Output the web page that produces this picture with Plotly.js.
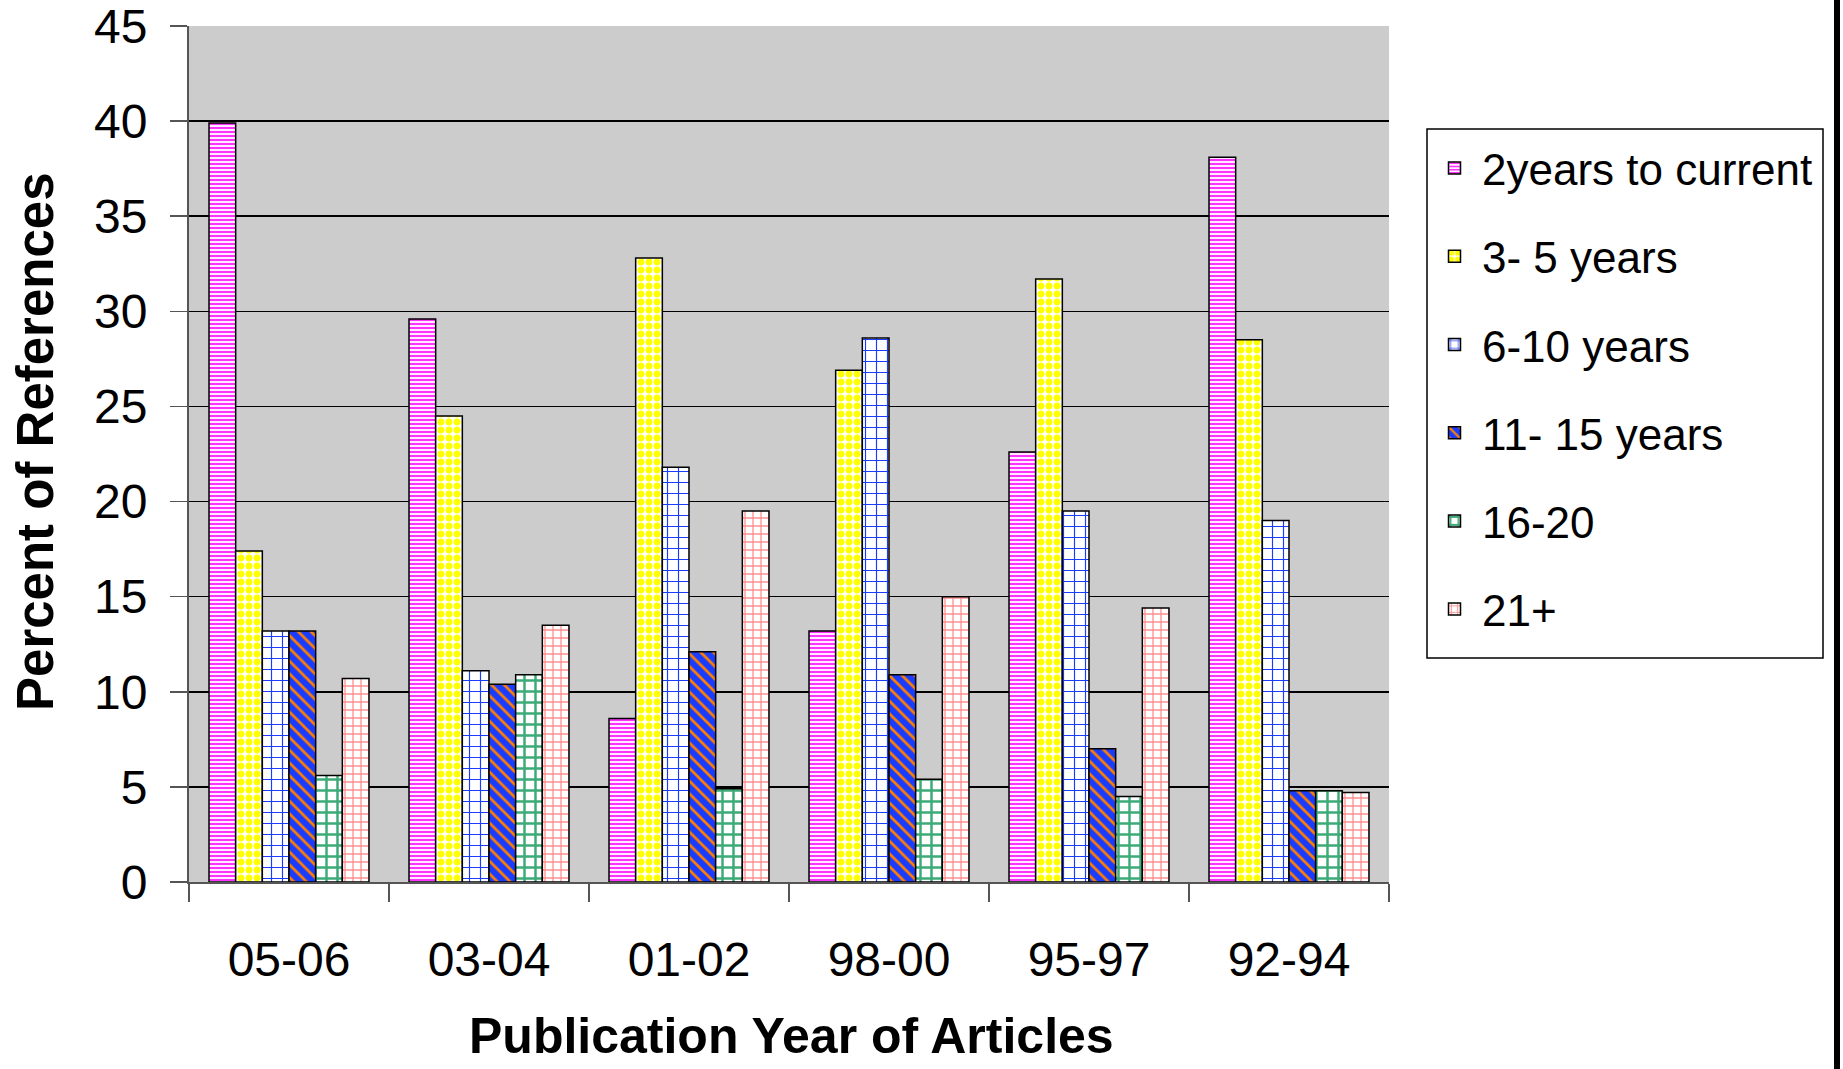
<!DOCTYPE html>
<html>
<head>
<meta charset="utf-8">
<script src="https://cdn.plot.ly/plotly-3.0.1.min.js"></script>
<style>
html,body{margin:0;padding:0;background:#fff;}
#chart{width:1843px;height:1069px;}
</style>
</head>
<body>
<div id="chart"></div>
<script>
const categories = ["05-06", "03-04", "01-02", "98-00", "95-97", "92-94"];
const seriesNames = ["2years to current", "3- 5 years", "6-10 years", "11- 15 years", "16-20", "21+"];
const s2yearsToCurrent = [39.9, 29.6, 8.6, 13.2, 22.6, 38.1];
const s3to5Years = [17.4, 24.5, 32.8, 26.9, 31.7, 28.5];
const s6to10Years = [13.2, 11.1, 21.8, 28.6, 19.5, 19.0];
const s11to15Years = [13.2, 10.4, 12.1, 10.9, 7.0, 4.8];
const s16to20 = [5.6, 10.9, 4.9, 5.4, 4.5, 4.8];
const s21plus = [10.7, 13.5, 19.5, 15.0, 14.4, 4.7];
const yTickValues = [0, 5, 10, 15, 20, 25, 30, 35, 40, 45];
const xTitle = "Publication Year of Articles";
const yTitle = "Percent of References";

const seriesValues = [s2yearsToCurrent, s3to5Years, s6to10Years, s11to15Years, s16to20, s21plus];
const patterns = [
  {shape: "-", fgcolor: "#ff33ff", bgcolor: "#ffffff", size: 4, solidity: 0.55},
  {shape: ".", fgcolor: "#ffff00", bgcolor: "#ffffff", size: 8, solidity: 0.6},
  {shape: "+", fgcolor: "#1a3cff", bgcolor: "#ffffff", size: 11, solidity: 0.2},
  {shape: "\\", fgcolor: "#ff7f00", bgcolor: "#1a3cff", size: 9, solidity: 0.3},
  {shape: "+", fgcolor: "#3cab78", bgcolor: "#ffffff", size: 11, solidity: 0.4},
  {shape: "+", fgcolor: "#ff9090", bgcolor: "#ffffff", size: 8, solidity: 0.3}
];
const baseColors = ["#ffffff", "#ffffff", "#ffffff", "#1a3cff", "#ffffff", "#ffffff"];

const traces = seriesNames.map((name, i) => ({
  type: "bar",
  name: name,
  x: categories,
  y: seriesValues[i],
  legendgroup: "g" + i,
  marker: {
    color: baseColors[i],
    line: {color: "#000000", width: 1.5},
    pattern: patterns[i]
  },
  hoverinfo: "x+y+name"
}));

const plotL = 189, plotR = 1389, plotT = 26, plotB = 882;
const W = 1843, H = 1069;
const pw = plotR - plotL, ph = plotB - plotT;
const px2x = p => (p - plotL) / pw;
const px2y = p => (plotB - p) / ph;

const layout = {
  width: W, height: H,
  margin: {l: plotL, r: W - plotR, t: plotT, b: H - plotB, pad: 0},
  paper_bgcolor: "#ffffff",
  plot_bgcolor: "#cccccc",
  font: {family: "Liberation Sans, Arial, sans-serif", color: "#000000"},
  barmode: "group",
  bargap: 0.2,
  bargroupgap: 0,
  showlegend: true,
  legend: {
    x: px2x(1427), y: px2y(133), xanchor: "left", yanchor: "top",
    bgcolor: "rgba(0,0,0,0)", borderwidth: 0,
    font: {size: 44, family: "Liberation Sans, Arial, sans-serif"},
    tracegroupgap: 28,
    traceorder: "grouped",
    itemwidth: 45
  },
  xaxis: {
    type: "category",
    showgrid: false,
    showline: true, linecolor: "#555555", linewidth: 2,
    ticks: "outside", tickson: "boundaries", ticklen: 18, tickcolor: "#555555", tickwidth: 1.5,
    tickfont: {size: 48},
    ticklabelstandoff: 34,
    ticklabeloverflow: "allow",
    automargin: false
  },
  yaxis: {
    range: [0, 45],
    tickvals: yTickValues,
    showgrid: true, gridcolor: "#000000", gridwidth: 1.5,
    zeroline: false,
    showline: true, linecolor: "#555555", linewidth: 2,
    ticks: "outside", ticklen: 17, tickcolor: "#555555", tickwidth: 1.5,
    tickfont: {size: 48},
    ticklabelstandoff: 13,
    ticklabeloverflow: "allow",
    automargin: false
  },
  annotations: [
    {text: yTitle, xref: "paper", yref: "paper", x: px2x(35), y: px2y(442),
     xanchor: "center", yanchor: "middle", textangle: -90, showarrow: false,
     font: {size: 51, family: "Liberation Sans, Arial, sans-serif", weight: "bold", color: "#000000"}},
    {text: xTitle, xref: "paper", yref: "paper", x: px2x(791), y: px2y(1036),
     xanchor: "center", yanchor: "middle", showarrow: false,
     font: {size: 50, family: "Liberation Sans, Arial, sans-serif", weight: "bold", color: "#000000"}}
  ],
  shapes: [
    {type: "rect", xref: "paper", yref: "paper",
     x0: px2x(1427), x1: px2x(1823), y0: px2y(658), y1: px2y(129),
     fillcolor: "#ffffff", line: {color: "#000000", width: 1.5}, layer: "above"},
    {type: "rect", xref: "paper", yref: "paper",
     x0: px2x(1834), x1: px2x(1840), y0: px2y(H), y1: px2y(0),
     fillcolor: "#000000", line: {width: 0}, layer: "above"}
  ]
};

Plotly.newPlot("chart", traces, layout, {displayModeBar: false, staticPlot: true});
</script>
</body>
</html>
